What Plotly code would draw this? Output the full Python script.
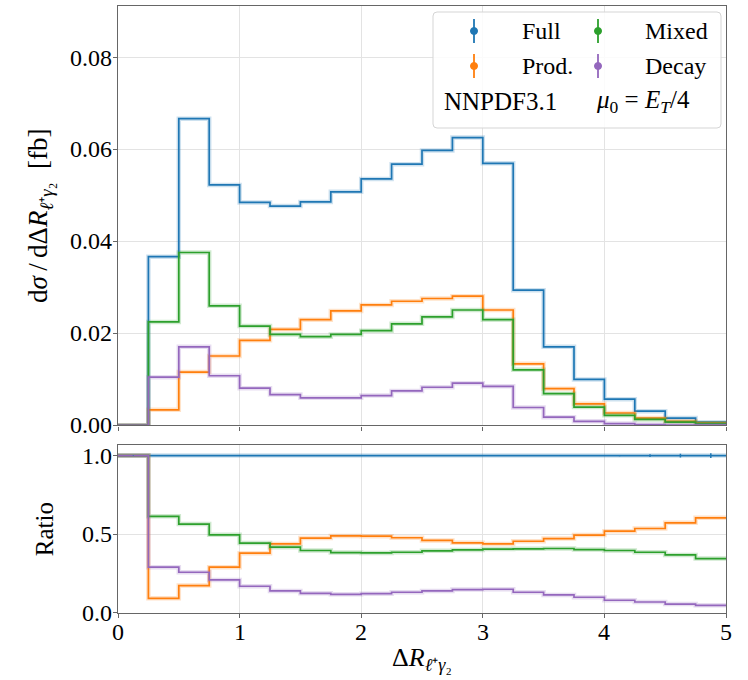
import numpy as np
import plotly.graph_objects as go

# ---------------- data ----------------
bin_edges = [0.0, 0.25, 0.5, 0.75, 1.0, 1.25, 1.5, 1.75, 2.0, 2.25, 2.5,
             2.75, 3.0, 3.25, 3.5, 3.75, 4.0, 4.25, 4.5, 4.75, 5.0]

full = [0.0, 0.0367, 0.0667, 0.0523, 0.0485, 0.0477, 0.0486, 0.0508, 0.0536, 0.0568,
        0.0598, 0.0626, 0.0570, 0.0294, 0.0171, 0.0100, 0.0057, 0.0031, 0.0016, 0.0007]
prod = [0.0, 0.0034, 0.0116, 0.0151, 0.0185, 0.0209, 0.0230, 0.0249, 0.0262, 0.0270,
        0.0276, 0.0281, 0.0251, 0.0134, 0.0080, 0.0047, 0.0027, 0.0016, 0.0009, 0.0005]
mixed = [0.0, 0.0225, 0.0376, 0.0260, 0.0216, 0.0198, 0.0193, 0.0198, 0.0206, 0.0221,
         0.0236, 0.0251, 0.0230, 0.0121, 0.0069, 0.0040, 0.0022, 0.0013, 0.0007, 0.0004]
decay = [0.0, 0.0105, 0.0171, 0.0108, 0.0081, 0.0067, 0.0060, 0.0060, 0.0065, 0.0075,
         0.0083, 0.0092, 0.0085, 0.0039, 0.0018, 0.0009, 0.0004, 0.0002, 0.0001, 0.00005]

ratio_full = [1.0] * 20
ratio_prod = [1.0, 0.093, 0.174, 0.291, 0.380, 0.439, 0.476, 0.490, 0.488, 0.478,
              0.461, 0.446, 0.439, 0.456, 0.473, 0.495, 0.520, 0.537, 0.573, 0.605]
ratio_mixed = [1.0, 0.614, 0.565, 0.497, 0.444, 0.418, 0.397, 0.384, 0.382, 0.386,
               0.395, 0.401, 0.406, 0.408, 0.410, 0.403, 0.397, 0.386, 0.369, 0.346]
ratio_decay = [1.0, 0.291, 0.259, 0.210, 0.170, 0.140, 0.125, 0.119, 0.123, 0.132,
               0.140, 0.149, 0.151, 0.132, 0.115, 0.100, 0.081, 0.070, 0.057, 0.049]
ratio_full_err = [0, 0, 0, 0, 0, 0, 0, 0, 0, 0, 0, 0, 0.001, 0.001, 0.002, 0.003,
                  0.004, 0.008, 0.012, 0.015]

x_ticks = [0, 1, 2, 3, 4, 5]
x_tick_labels = ["0", "1", "2", "3", "4", "5"]
y_ticks_top = [0.0, 0.02, 0.04, 0.06, 0.08]
y_tick_labels_top = ["0.00", "0.02", "0.04", "0.06", "0.08"]
y_ticks_ratio = [0.0, 0.5, 1.0]
y_tick_labels_ratio = ["0.0", "0.5", "1.0"]

series = [("Full", full, ratio_full, "#1f77b4"),
          ("Prod.", prod, ratio_prod, "#ff7f0e"),
          ("Mixed", mixed, ratio_mixed, "#2ca02c"),
          ("Decay", decay, ratio_decay, "#9467bd")]

# ---------------- figure ----------------
FONT = "Liberation Serif"
W, H = 748, 680
ML, MR, MT, MB = 118, 22, 6, 67
PW, PH = W - ML - MR, H - MT - MB


def px(x):
    return (x - ML) / PW


def py(y):
    return (H - MB - y) / PH


fig = go.Figure()
edges = np.array(bin_edges)
centers = (edges[:-1] + edges[1:]) / 2

for name, vals, rvals, col in series:
    yv = list(vals) + [vals[-1]]
    ry = list(rvals) + [rvals[-1]]
    for yy, xa, ya in ((yv, "x", "y"), (ry, "x2", "y2")):
        fig.add_trace(go.Scatter(x=edges, y=yy, mode="lines", line_shape="hv",
                                 line=dict(color=col, width=4.5), opacity=0.22,
                                 xaxis=xa, yaxis=ya, hoverinfo="skip", showlegend=False))
        fig.add_trace(go.Scatter(x=edges, y=yy, mode="lines", line_shape="hv",
                                 line=dict(color=col, width=1.7), name=name,
                                 xaxis=xa, yaxis=ya, showlegend=False))

fig.add_trace(go.Scatter(x=centers, y=ratio_full, mode="markers",
                         marker=dict(size=1, color="#1f77b4"),
                         error_y=dict(type="data", array=ratio_full_err, color="#1f77b4",
                                      thickness=1.5, width=0),
                         xaxis="x2", yaxis="y2", showlegend=False))


def axis_style():
    return dict(showline=True, linecolor="#666666", linewidth=1.3, mirror=True,
                showgrid=True, gridcolor="#e3e3e3", gridwidth=1,
                ticks="outside", ticklen=4, tickcolor="#666666", zeroline=False,
                showticklabels=False)


fig.update_layout(
    template="none",
    width=W, height=H,
    margin=dict(l=ML, r=MR, t=MT, b=MB),
    plot_bgcolor="white", paper_bgcolor="white",
    font=dict(family=FONT, color="black", size=24),
    xaxis=dict(domain=[0, 1], range=[0, 5], tickvals=x_ticks, anchor="y", **axis_style()),
    yaxis=dict(domain=[0.309, 1.0], range=[0, 0.0912], tickvals=y_ticks_top, anchor="x",
               **axis_style()),
    xaxis2=dict(domain=[0, 1], range=[0, 5], tickvals=x_ticks, anchor="y2", **axis_style()),
    yaxis2=dict(domain=[0, 0.2764], range=[0, 1.066], tickvals=y_ticks_ratio, anchor="x2",
                **axis_style()),
    showlegend=False,
)

tickfont = dict(family=FONT, size=24, color="black")
# tick labels (placed on the axes' own scales)
for v, t in zip(x_ticks, x_tick_labels):
    fig.add_annotation(text=t, xref="x2", yref="paper", x=v, y=0, yshift=-19,
                       xanchor="center", yanchor="middle", showarrow=False, font=tickfont)
for v, t in zip(y_ticks_top, y_tick_labels_top):
    fig.add_annotation(text=t, xref="paper", yref="y", x=0, y=v, xshift=-4,
                       xanchor="right", yanchor="middle", showarrow=False, font=tickfont)
for v, t in zip(y_ticks_ratio, y_tick_labels_ratio):
    fig.add_annotation(text=t, xref="paper", yref="y2", x=0, y=v, xshift=-4,
                       xanchor="right", yanchor="middle", showarrow=False, font=tickfont)

# axis titles
fig.add_annotation(text="d<i>σ</i>\u2009/\u2009dΔ<i>R</i><sub><i>ℓ</i>⁺<i>γ</i>₂</sub>\u2002[fb]",
                   xref="paper", yref="paper", x=0, y=0.654, xshift=-78,
                   textangle=-90, showarrow=False, xanchor="center", yanchor="middle",
                   font=dict(family=FONT, size=27))
fig.add_annotation(text="Ratio", xref="paper", yref="paper", x=0, y=0.138, xshift=-74,
                   textangle=-90, showarrow=False, xanchor="center", yanchor="middle",
                   font=dict(family=FONT, size=25))
fig.add_annotation(text="Δ<i>R</i><sub><i>ℓ</i>⁺<i>γ</i>₂</sub>", xref="paper", yref="paper",
                   x=0.5, y=0, yshift=-46, showarrow=False, xanchor="center",
                   yanchor="middle", font=dict(family=FONT, size=26))

# legend box (drawn manually)
lx0, ly0, lx1, ly1, r = 433, 12, 721, 128, 4
path = (f"M {px(lx0 + r)} {py(ly0)} L {px(lx1 - r)} {py(ly0)} "
        f"Q {px(lx1)} {py(ly0)} {px(lx1)} {py(ly0 + r)} L {px(lx1)} {py(ly1 - r)} "
        f"Q {px(lx1)} {py(ly1)} {px(lx1 - r)} {py(ly1)} L {px(lx0 + r)} {py(ly1)} "
        f"Q {px(lx0)} {py(ly1)} {px(lx0)} {py(ly1 - r)} L {px(lx0)} {py(ly0 + r)} "
        f"Q {px(lx0)} {py(ly0)} {px(lx0 + r)} {py(ly0)} Z")
fig.add_shape(type="path", path=path, xref="paper", yref="paper",
              fillcolor="rgba(255,255,255,0.85)", line=dict(color="#d5d5d5", width=1))

legend_items = [("Full", "#1f77b4", 474, 31, 520),
                ("Mixed", "#2ca02c", 598, 31, 643),
                ("Prod.", "#ff7f0e", 474, 66, 520),
                ("Decay", "#9467bd", 598, 66, 643)]
for name, col, sx, sy, tx in legend_items:
    fig.add_shape(type="line", xref="paper", yref="paper",
                  x0=px(sx), x1=px(sx), y0=py(sy - 12), y1=py(sy + 12),
                  line=dict(color=col, width=1.8))
    fig.add_shape(type="circle", xref="paper", yref="paper",
                  x0=px(sx - 3.5), x1=px(sx + 3.5), y0=py(sy - 3.5), y1=py(sy + 3.5),
                  fillcolor=col, line=dict(color=col, width=1))
    fig.add_annotation(text=name, xref="paper", yref="paper", x=px(tx), y=py(sy),
                       xanchor="left", yanchor="middle", showarrow=False,
                       font=dict(family=FONT, size=24))

fig.add_annotation(text="NNPDF3.1", xref="paper", yref="paper", x=px(442), y=py(102),
                   xanchor="left", yanchor="middle", showarrow=False,
                   font=dict(family=FONT, size=25))
fig.add_annotation(text="<i>μ</i><sub>0</sub> = <i>E</i><sub><i>T</i></sub>/4",
                   xref="paper", yref="paper", x=px(594), y=py(102),
                   xanchor="left", yanchor="middle", showarrow=False,
                   font=dict(family=FONT, size=25))

fig.write_html("out.html")
